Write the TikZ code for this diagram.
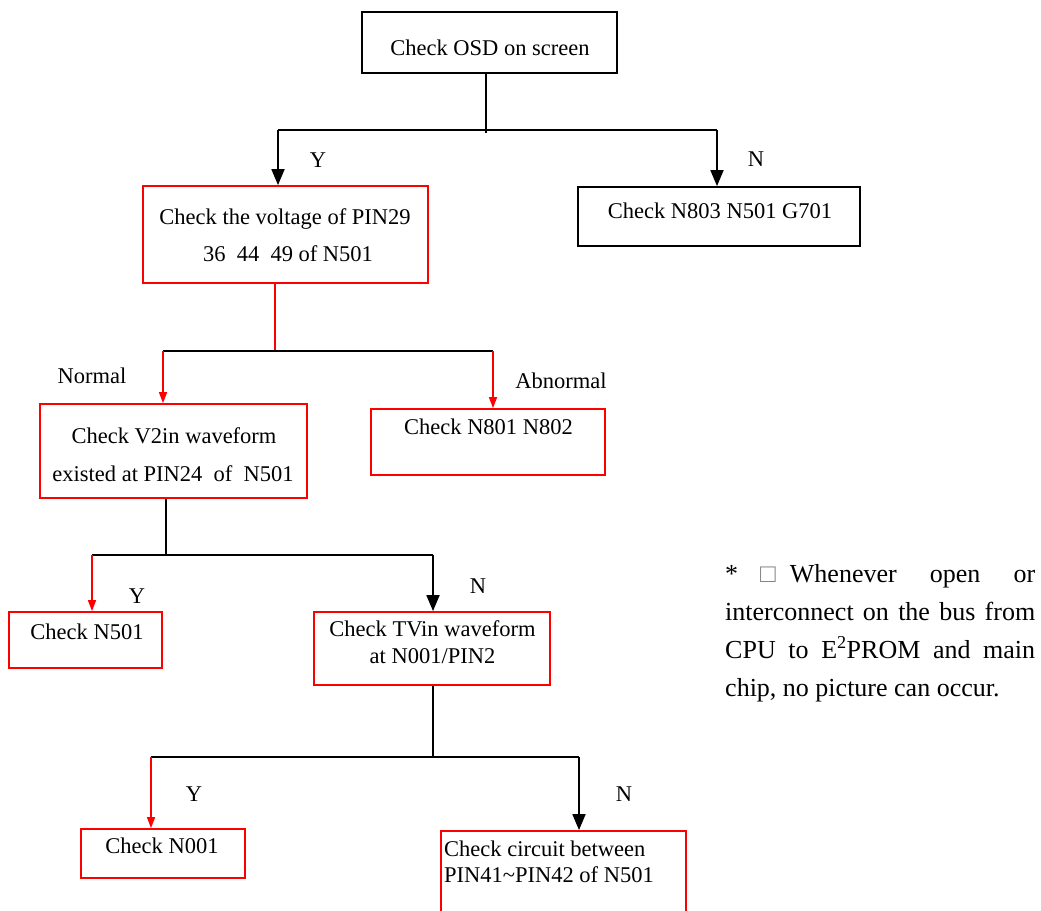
\documentclass[tikz,border=0pt]{standalone}
\usepackage{fontspec}
\setmainfont{Liberation Serif}
\usetikzlibrary{arrows.meta}
\definecolor{rd}{HTML}{FF0000}
\tikzset{
  kbox/.style={draw=black, line width=1.8pt, inner sep=0pt},
  rbox/.style={draw=rd, line width=1.8pt, inner sep=0pt},
  txt/.style={inner sep=0pt, font=\fontsize{22.5}{27}\selectfont},
  notetxt/.style={inner sep=0pt, font=\fontsize{26}{30}\selectfont},
  kline/.style={draw=black, line width=1.8pt},
  rline/.style={draw=rd, line width=1.6pt},
  karr/.style={kline, -{Triangle[width=13pt,length=16pt]}},
  rarr/.style={rline, -{Triangle[width=8pt,length=11pt]}},
}
\begin{document}
\begin{tikzpicture}[x=1pt,y=-1pt]
\clip (0,0) rectangle (1041,910);
\fill[white] (0,0) rectangle (1041,910);

% ---- boxes
\node[kbox, minimum width=255, minimum height=61] (osd) at (489.5,42.5) {};
\node[rbox, minimum width=285, minimum height=97] (volt) at (285.5,234.5) {};
\node[kbox, minimum width=282, minimum height=59] (n803) at (719,216.5) {};
\node[rbox, minimum width=267, minimum height=94] (v2in) at (173.5,451) {};
\node[rbox, minimum width=234, minimum height=66] (n801) at (488,442) {};
\node[rbox, minimum width=153, minimum height=56] (n501) at (85.5,640) {};
\node[rbox, minimum width=236, minimum height=73] (tvin) at (432,648.5) {};
\node[rbox, minimum width=164, minimum height=49] (n001) at (163,853.5) {};
\node[rbox, minimum width=245, minimum height=99] (circ) at (563.5,880.5) {};

% ---- box texts
\node[txt, anchor=base] (osdT) at (490,55) {Check OSD on screen};
\node[txt, anchor=base] (voltT1) at (285,224) {Check the voltage of PIN29};
\node[txt, anchor=base] (voltT2) at (288,261) {36\ \ 44\ \ 49 of N501};
\node[txt, anchor=base] (n803T) at (720,218) {Check N803 N501 G701};
\node[txt, anchor=base] (v2inT1) at (174,443) {Check V2in waveform};
\node[txt, anchor=base] (v2inT2) at (173,481) {existed at PIN24\ \ of\ \ N501};
\node[txt, anchor=base] (n801T) at (488.5,434) {Check N801 N802};
\node[txt, anchor=base] (n501T) at (87,639) {Check N501};
\node[txt, anchor=base] (tvinT1) at (432.5,636) {Check TVin waveform};
\node[txt, anchor=base] (tvinT2) at (432.5,663) {at N001/PIN2};
\node[txt, anchor=base] (n001T) at (162,853) {Check N001};
\node[txt, anchor=base west] (circT1) at (444,856) {Check circuit between};
\node[txt, anchor=base west] (circT2) at (444,882) {PIN41\textasciitilde PIN42 of N501};

% ---- branch labels
\node[txt, anchor=base] (lY1) at (318,167) {Y};
\node[txt, anchor=base] (lN1) at (756,166) {N};
\node[txt, anchor=base] (lNorm) at (92,383) {Normal};
\node[txt, anchor=base] (lAbn) at (561,388) {Abnormal};
\node[txt, anchor=base] (lY2) at (137,603) {Y};
\node[txt, anchor=base] (lN2) at (478,593) {N};
\node[txt, anchor=base] (lY3) at (194,801) {Y};
\node[txt, anchor=base] (lN3) at (624,801) {N};

% ---- junctions
\coordinate (s1) at (486,133);
\coordinate (b1l) at (278,130);
\coordinate (b1r) at (717,130);
\coordinate (s2) at (275,351);
\coordinate (b2l) at (163,351);
\coordinate (b2r) at (493,351);
\coordinate (s3) at (166,555);
\coordinate (b3l) at (92,555);
\coordinate (b3r) at (433,555);
\coordinate (s4) at (433,757);
\coordinate (b4l) at (151,757);
\coordinate (b4r) at (579,757);

% ---- level 1
\draw[kline] (s1 |- osd.south) -- (s1);
\draw[kline] (b1l) -- (b1r);
\draw[karr] (b1l) -- (b1l |- volt.north);
\draw[karr] (b1r) -- (b1r |- n803.north);

% ---- level 2
\draw[rline] (s2 |- volt.south) -- (s2);
\draw[kline] (b2l) -- (b2r);
\draw[rarr] (b2l) -- (b2l |- v2in.north);
\draw[rarr] (b2r) -- (b2r |- n801.north);

% ---- level 3
\draw[kline] (s3 |- v2in.south) -- (s3);
\draw[kline] (b3l) -- (b3r);
\draw[rarr] (b3l) -- (b3l |- n501.north);
\draw[karr] (b3r) -- (b3r |- tvin.north);

% ---- level 4
\draw[kline] (s4 |- tvin.south) -- (s4);
\draw[kline] (b4l) -- (b4r);
\draw[rarr] (b4l) -- (b4l |- n001.north);
\draw[karr] (b4r) -- (b4r |- circ.north);

% ---- note
\node[notetxt, anchor=base west] (note1) at (725,582)
  {\hbox to 310pt{*\hspace{22pt}{\color{gray}□}\hspace{14pt}Whenever\hfill open\hfill or}};
\node[notetxt, anchor=base west] (note2) at (725,620)
  {\hbox to 310pt{interconnect\hfill on\hfill the\hfill bus\hfill from}};
\node[notetxt, anchor=base west] (note3) at (725,658)
  {\hbox to 310pt{CPU\hfill to\hfill E\textsuperscript{2}PROM\hfill and\hfill main}};
\node[notetxt, anchor=base west] (note4) at (725,696)
  {chip, no picture can occur.};
\end{tikzpicture}
\end{document}
